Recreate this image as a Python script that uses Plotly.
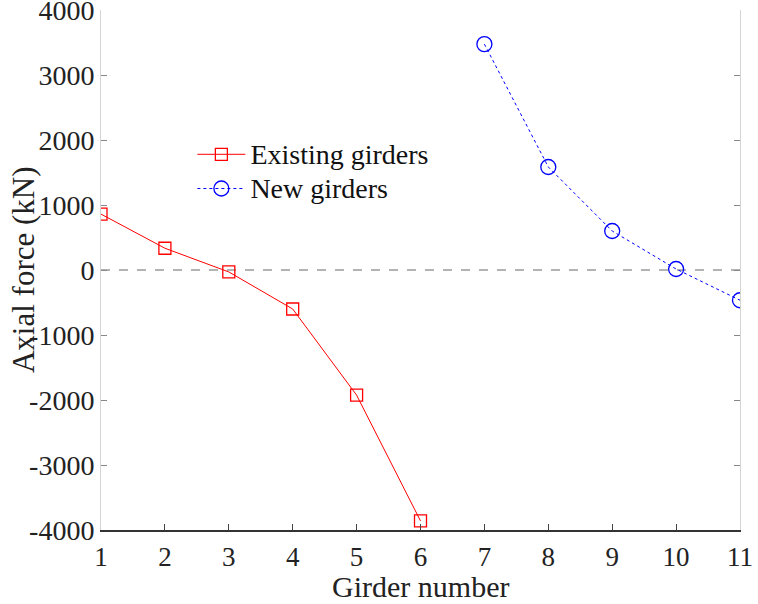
import plotly.graph_objects as go

girders_existing = [1, 2, 3, 4, 5, 6]
force_existing = [860, 335, -30, -600, -1925, -3860]
girders_new = [7, 8, 9, 10, 11]
force_new = [3475, 1585, 600, 15, -465]
x_ticks = list(range(1, 12))
y_ticks = [-4000, -3000, -2000, -1000, 0, 1000, 2000, 3000, 4000]
y_tick_text = [str(v) for v in y_ticks]
series_names = ["Existing girders", "New girders"]

FONT = "Liberation Serif, Times New Roman, serif"

def legend_label(s):
    return "<span style='font-size:28px'>" + s + "</span>"

fig = go.Figure()
fig.add_trace(go.Scatter(
    x=girders_existing, y=force_existing, mode="lines+markers",
    name=legend_label(series_names[0]),
    line=dict(color="#ff0000", width=1),
    marker=dict(symbol="square-open", size=12, color="#ff0000", line=dict(width=1.3)),
))
fig.add_trace(go.Scatter(
    x=girders_new, y=force_new, mode="lines+markers",
    name=legend_label(series_names[1]),
    line=dict(color="#0000ff", width=1, dash="dot"),
    marker=dict(symbol="circle-open", size=15, color="#0000ff", line=dict(width=1.3)),
))

fig.add_hline(y=0, line=dict(color="#9a9a9a", width=1.5, dash="dash"), layer="below")

fig.update_layout(
    width=758, height=604,
    margin=dict(l=101, r=18, t=10, b=74),
    paper_bgcolor="white", plot_bgcolor="white",
    font=dict(family=FONT, size=28, color="#222"),
    showlegend=True,
    legend=dict(x=0.143, y=0.765, xanchor="left", yanchor="top",
                bgcolor="rgba(0,0,0,0)", font=dict(size=24, family=FONT, color="#111"),
                tracegroupgap=0, itemwidth=48),
)
fig.update_xaxes(
    range=[1, 11], tickvals=x_ticks, ticks="inside", ticklen=6, tickcolor="#444",
    showline=True, linecolor="#333", linewidth=1.5, showgrid=False, zeroline=False,
    tickfont=dict(size=27, family=FONT, color="#222"),
    ticklabelstandoff=2, automargin=False, ticklabeloverflow="allow",
)
fig.update_yaxes(
    range=[-4000, 4000], tickvals=y_ticks, ticktext=y_tick_text,
    ticks="inside", ticklen=6, tickcolor="#888",
    showline=True, linecolor="#d4d4d4", linewidth=1, mirror="ticks",
    showgrid=False, zeroline=False, automargin=False, ticklabeloverflow="allow",
    tickfont=dict(size=28, family=FONT, color="#222"),
)
fig.add_annotation(
    text="Axial force (kN)", xref="paper", yref="paper",
    x=-0.122, y=0.5, xanchor="center", yanchor="middle",
    textangle=-90, showarrow=False, font=dict(size=31, family=FONT, color="#222"),
)
fig.add_annotation(
    text="Girder number", xref="paper", yref="paper",
    x=0.5, y=-74 / 520, xanchor="center", yanchor="bottom", borderpad=0,
    showarrow=False, font=dict(size=30, family=FONT, color="#222"),
)

fig.write_html("out.html")
